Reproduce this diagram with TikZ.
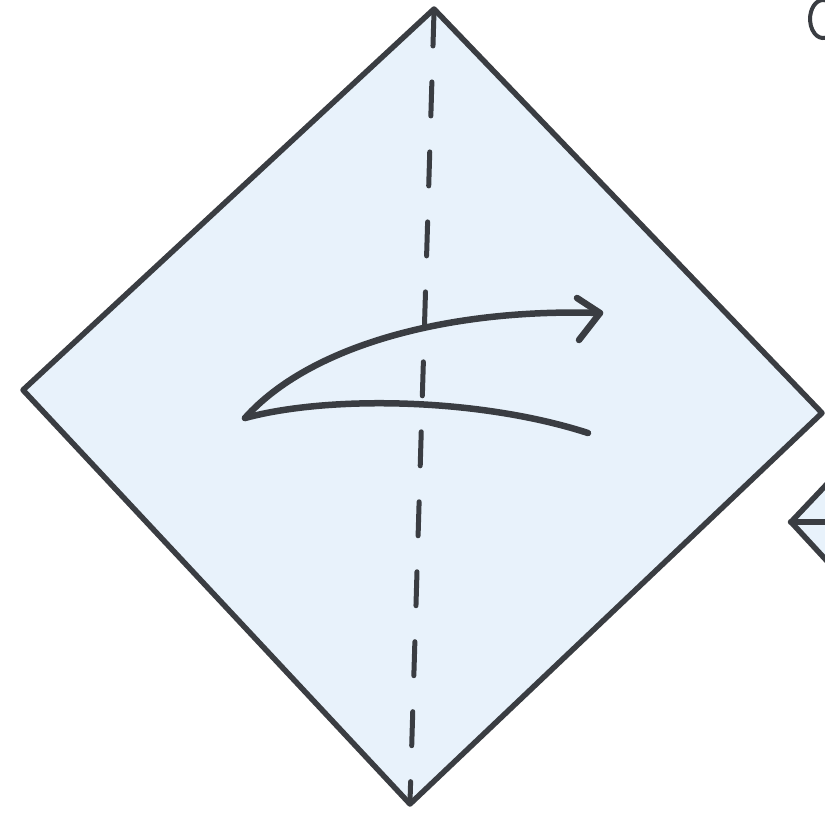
\documentclass[tikz,border=0pt]{standalone}
\usetikzlibrary{arrows.meta}
\definecolor{paper}{RGB}{232,242,251}
\definecolor{ink}{RGB}{58,61,66}
\tikzset{
  outline/.style={draw=ink, line width=5.5pt, line join=round, line cap=round},
  fold/.style={draw=ink, line width=5pt, line cap=round, dash pattern=on 34pt off 36pt},
  stroke/.style={draw=ink, line width=6.5pt, line cap=round, line join=round}
}
\begin{document}
\begin{tikzpicture}[x=1pt,y=-1pt]
\useasboundingbox (0,0) rectangle (825,815);
% main square
\coordinate (T) at (434,9);
\coordinate (L) at (23,390);
\coordinate (R) at (822,413);
\coordinate (B) at (410,804);
\path[fill=paper] (T) -- (R) -- (B) -- (L) -- cycle;
% valley fold
\coordinate (T2) at (434,12);
\coordinate (B2) at (410,802);
\draw[fold] (T2) -- (B2);
% arrow
\coordinate (A) at (245,418);
\coordinate (Tip) at (600,313);
\coordinate (E) at (588,433);
\draw[stroke] (A) .. controls (310,345) and (450,308) .. (Tip);
\draw[stroke] (577,298) -- (Tip) -- (579,340);
\draw[stroke] (A) .. controls (330,395) and (480,398) .. (E);
\draw[outline] (T) -- (R) -- (B) -- (L) -- cycle;
% next diagram (partial)
\coordinate (L2) at (791,522);
\path[fill=paper] (827,484) -- (L2) -- (827,561) -- cycle;
\draw[outline] (827,484) -- (L2) -- (827,561);
\draw[stroke] (L2) -- (827,522);
% step number circle (partial)
\draw[ink, line width=4pt] (825.3,0.3) arc[start angle=280, end angle=80, x radius=13, y radius=19];
\end{tikzpicture}
\end{document}
